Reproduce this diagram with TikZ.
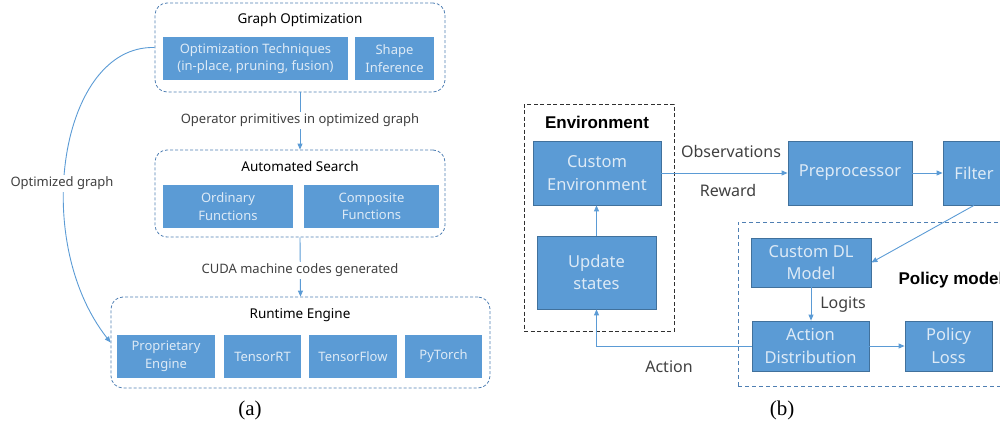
\documentclass[tikz,border=0pt]{standalone}
\usepackage{fontspec}
\setmainfont{Noto Sans}
\newfontfamily\capfont{Liberation Serif}
\newfontfamily\titlefont{Liberation Sans}
\usetikzlibrary{arrows.meta}
\definecolor{boxblue}{HTML}{5B9BD5}
\definecolor{boxedge}{HTML}{41719C}
\definecolor{boxtext}{HTML}{DDEAF6}
\definecolor{dashblue}{HTML}{4F7FB3}
\definecolor{linkblue}{HTML}{5B9BD5}
\definecolor{labgray}{HTML}{404040}
\definecolor{envdash}{HTML}{303030}
\begin{document}
\begin{tikzpicture}[x=1pt,y=-1pt,
  abox/.style={fill=boxblue, draw=none, text=boxtext, font=\fontsize{13}{17.5}\selectfont, align=center, inner sep=0pt},
  bbox/.style={fill=boxblue, draw=boxedge, line width=0.8pt, text=boxtext, font=\fontsize{16.5}{22.5}\selectfont, align=center, inner sep=0pt},
  grp/.style={draw=dashblue, rounded corners=12pt, line width=0.8pt, dash pattern=on 3pt off 2pt, inner sep=0pt},
  envgrp/.style={draw=envdash, line width=1pt, dash pattern=on 4pt off 2.5pt, inner sep=0pt},
  polgrp/.style={draw=dashblue, line width=1pt, dash pattern=on 4pt off 3pt, inner sep=0pt},
  atitle/.style={font=\fontsize{13.5}{15}\selectfont, text=black},
  btitle/.style={font=\titlefont\bfseries\fontsize{17}{19}\selectfont, text=black},
  alab/.style={font=\fontsize{13}{15}\selectfont, text=labgray, fill=white, inner sep=2pt},
  blab/.style={font=\fontsize{16}{18}\selectfont, text=labgray, inner sep=1pt},
  link/.style={draw=linkblue, line width=0.9pt, -{Triangle[length=6pt,width=5pt]}},
  capt/.style={font=\capfont\fontsize{21}{23}\selectfont, text=black}
]
\useasboundingbox (0,0) rectangle (1000,431);
\clip (0,0) rectangle (1000,431);

% ---------------- (a) ----------------
\node[grp, minimum width=290pt, minimum height=89pt] (gopt) at (300,47.5) {};
\node[atitle] (gtitle) at (300,20) {Graph Optimization};
\node[abox, minimum width=185pt, minimum height=43pt] (otech) at (255.5,58.5) {Optimization Techniques\\(in-place, pruning, fusion)};
\node[abox, minimum width=79pt, minimum height=43pt] (shape) at (394.5,58.5) {Shape\\Inference};

\node[grp, minimum width=290pt, minimum height=87pt] (asearch) at (300,193.5) {};
\node[atitle] (stitle) at (300,166) {Automated Search};
\node[abox, minimum width=130pt, minimum height=43pt] (ordf) at (228,206.5) {Ordinary\\Functions};
\node[abox, minimum width=135pt, minimum height=43pt] (compf) at (371.5,206.5) {Composite\\Functions};

\node[grp, minimum width=379pt, minimum height=91pt] (rt) at (300.5,342.5) {};
\node[atitle] (rtitle) at (300,315) {Runtime Engine};
\node[abox, minimum width=98pt, minimum height=43pt] (prop) at (166,356.5) {Proprietary\\Engine};
\node[abox, minimum width=77pt, minimum height=43pt] (trt) at (262.5,356.5) {TensorRT};
\node[abox, minimum width=88pt, minimum height=43pt] (tf) at (353,356.5) {TensorFlow};
\node[abox, minimum width=77pt, minimum height=43pt] (pyt) at (443.5,356.5) {PyTorch};

\draw[link] (gopt.south) -- (asearch.north);
\node[alab] (lab1) at (300,120) {Operator primitives in optimized graph};
\draw[link] (asearch.south) -- (rt.north);
\node[alab] (lab2) at (300,270) {CUDA machine codes generated};

\draw[link] (gopt.west) .. controls (60,45) and (30,240) .. (rt.west);
\node[alab] (lab3) at (62,183) {Optimized graph};

\node[capt] (capa) at (250,410) {(a)};

% ---------------- (b) ----------------
\node[envgrp, minimum width=150pt, minimum height=227pt] (env) at (599,217.5) {};
\node[btitle] (envtitle) at (597,122) {Environment};
\node[bbox, minimum width=128pt, minimum height=64pt] (cenv) at (597,173) {Custom\\Environment};
\node[bbox, minimum width=119pt, minimum height=73pt] (upd) at (596.5,272.5) {Update\\states};

\node[bbox, minimum width=124pt, minimum height=64pt] (pre) at (850,173) {Preprocessor};
\node[bbox, minimum width=62pt, minimum height=64pt] (filt) at (974,173) {Filter};

\node[polgrp, minimum width=272pt, minimum height=164pt] (pol) at (874,304) {};
\node[btitle, anchor=west] (poltitle) at (895,280) {Policy model};
\node[bbox, minimum width=120pt, minimum height=49pt] (dl) at (811,262.5) {Custom DL\\Model};
\node[bbox, minimum width=117pt, minimum height=50pt] (ad) at (810.5,346) {Action\\Distribution};
\node[bbox, minimum width=87pt, minimum height=50pt] (pl) at (948.5,346) {Policy\\Loss};

\draw[link] (upd.north) -- (upd.north |- cenv.south);
\draw[link] (cenv.east) -- (pre.west);
\node[blab] (obs) at (731,151) {Observations};
\node[blab] (rew) at (728,190) {Reward};
\draw[link] (pre.east) -- (filt.west);
\draw[link] (filt.south) -- (dl.east);
\draw[link] (dl.south) -- (dl.south |- ad.north);
\node[blab] (logits) at (843,305) {Logits};
\draw[link] (ad.east) -- (pl.west);
\draw[link] (ad.west) -| (upd.south);
\node[blab] (act) at (669,367) {Action};

\node[capt] (capb) at (782,410) {(b)};
\end{tikzpicture}
\end{document}
